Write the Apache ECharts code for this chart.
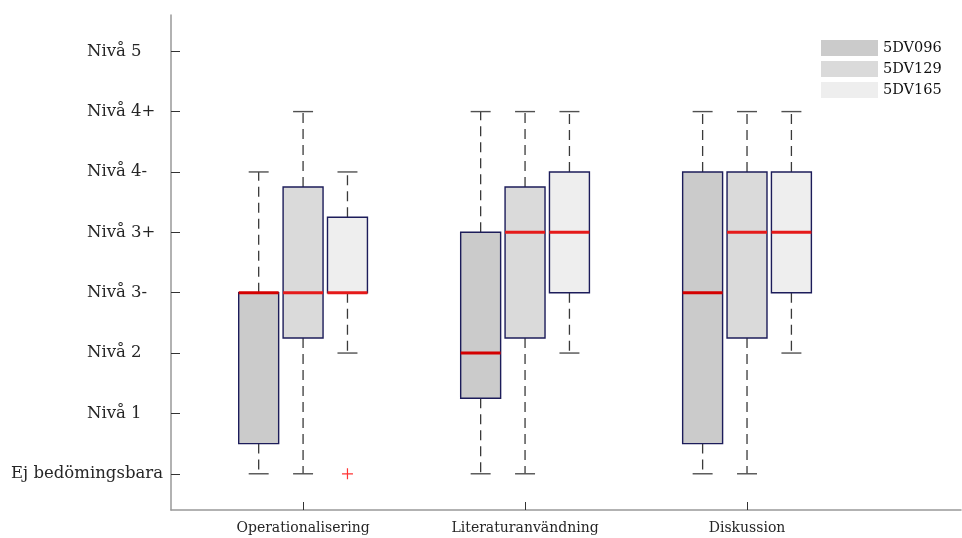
<!DOCTYPE html>
<html><head><meta charset="utf-8">
<script src="https://cdn.jsdelivr.net/npm/echarts@6/dist/echarts.min.js"></script>
<style>html,body{margin:0;padding:0;background:#fff}#c{width:962px;height:538px}</style>
</head><body><div id="c"></div>
<script>
const categories = ['Operationalisering', 'Literaturanvändning', 'Diskussion'];
const yLabels = ['Ej bedömingsbara', 'Nivå 1', 'Nivå 2', 'Nivå 3-', 'Nivå 3+', 'Nivå 4-', 'Nivå 4+', 'Nivå 5'];
const courses = ['5DV096', '5DV129', '5DV165'];
// [lowWhisker, q1, median, q3, highWhisker] per category
const box5DV096 = [[0, 0.5, 3, 3, 5], [0, 1.25, 2, 4, 6], [0, 0.5, 3, 5, 6]];
const box5DV129 = [[0, 2.25, 3, 4.75, 6], [0, 2.25, 4, 4.75, 6], [0, 2.25, 4, 5, 6]];
const box5DV165 = [[2, 3, 3, 4.25, 5], [2, 3, 4, 5, 6], [2, 3, 4, 5, 6]];
// [categoryIndex, value]
const outliers5DV165 = [[0, 0]];

const boxSets = [box5DV096, box5DV129, box5DV165];
const fills = ['#cbcbcb', '#dadada', '#eeeeee'];
const medianColors = ['#d40000', '#e51a1a', '#e51a1a'];
const offsets = [-0.2, 0, 0.2];
const boxW = 0.18, capW = 0.09;
const font = 'DejaVu Serif';

function makeBoxSeries(si) {
  const data = boxSets[si].map((b, i) => [i + 1 + offsets[si], b[0], b[1], b[2], b[3], b[4]]);
  return {
    type: 'custom', name: courses[si], data: data,
    itemStyle: { color: fills[si] },
    encode: { x: 0, y: [1, 2, 3, 4, 5] },
    renderItem: function (params, api) {
      const x = api.value(0);
      const lo = api.value(1), q1 = api.value(2), md = api.value(3), q3 = api.value(4), hi = api.value(5);
      const pL = api.coord([x - boxW / 2, q3]);
      const pR = api.coord([x + boxW / 2, q1]);
      const cL = api.coord([x - capW / 2, lo])[0];
      const cR = api.coord([x + capW / 2, lo])[0];
      const cx = api.coord([x, 0])[0];
      const yLo = api.coord([x, lo])[1], yHi = api.coord([x, hi])[1];
      const yQ1 = pR[1], yQ3 = pL[1], yMd = api.coord([x, md])[1];
      const wStyle = { stroke: '#3a3a3a', lineWidth: 1.3, lineDash: [10, 6] };
      const cStyle = { stroke: '#505050', lineWidth: 1.4 };
      const children = [];
      if (yHi < yQ3 - 0.5) {
        children.push({ type: 'line', shape: { x1: cx, y1: yQ3, x2: cx, y2: yHi }, style: wStyle });
      }
      children.push({ type: 'line', shape: { x1: cL, y1: yHi, x2: cR, y2: yHi }, style: cStyle });
      if (yLo > yQ1 + 0.5) {
        children.push({ type: 'line', shape: { x1: cx, y1: yQ1, x2: cx, y2: yLo }, style: wStyle });
      }
      children.push({ type: 'line', shape: { x1: cL, y1: yLo, x2: cR, y2: yLo }, style: cStyle });
      children.push({ type: 'rect', shape: { x: pL[0], y: yQ3, width: pR[0] - pL[0], height: yQ1 - yQ3 },
        style: { fill: fills[si], stroke: '#1c1c5a', lineWidth: 1.4 } });
      children.push({ type: 'line', shape: { x1: pL[0], y1: yMd, x2: pR[0], y2: yMd },
        style: { stroke: medianColors[si], lineWidth: 3 } });
      return { type: 'group', children: children };
    }
  };
}

const series = [0, 1, 2].map(makeBoxSeries);
series.push({
  type: 'scatter', name: 'outlier',
  data: outliers5DV165.map(o => [o[0] + 1 + offsets[2], o[1]]),
  symbol: 'path://M5,0 L5,10 M0,5 L10,5', symbolSize: 11,
  itemStyle: { color: 'none', borderColor: '#ff0000', borderWidth: 1.2 },
  silent: true
});

const chart = echarts.init(document.getElementById('c'));
chart.setOption({
  animation: false,
  backgroundColor: '#ffffff',
  grid: { left: 171, right: 1, top: 15, bottom: 28 },
  legend: {
    data: courses, orient: 'vertical', left: 816, top: 35,
    itemWidth: 57, itemHeight: 16, itemGap: 5, icon: 'rect', selectedMode: false,
    itemStyle: { borderWidth: 0 },
    textStyle: { fontFamily: font, fontSize: 14.5, color: '#111' }
  },
  xAxis: {
    type: 'value', min: 0.405, max: 3.964,
    axisLine: { show: true, onZero: false, lineStyle: { color: '#999', width: 1.5 } },
    axisTick: { show: true, inside: true, length: 8, customValues: [1, 2, 3], lineStyle: { color: '#333' } },
    axisLabel: { customValues: [1, 2, 3], formatter: v => categories[Math.round(v) - 1] || '',
      fontFamily: font, fontSize: 14, color: '#262626', margin: 11 },
    splitLine: { show: false }
  },
  yAxis: {
    type: 'value', min: -0.6, max: 7.6,
    axisLine: { show: true, onZero: false, lineStyle: { color: '#999', width: 1.5 } },
    axisTick: { show: true, inside: true, length: 9, customValues: [0, 1, 2, 3, 4, 5, 6, 7], lineStyle: { color: '#333' } },
    axisLabel: {
      customValues: [0, 1, 2, 3, 4, 5, 6, 7],
      formatter: v => { const i = Math.round(v); const t = yLabels[i] || ''; return i === 0 ? '{w|' + t + '}' : '{n|' + t + '}'; },
      fontFamily: font, fontSize: 16.5, color: '#262626', margin: 8,
      rich: {
        n: { width: 76, align: 'left', fontFamily: font, fontSize: 16.5, color: '#262626' },
        w: { fontFamily: font, fontSize: 16.5, color: '#262626' }
      }
    },
    splitLine: { show: false }
  },
  series: series
});
</script></body></html>
